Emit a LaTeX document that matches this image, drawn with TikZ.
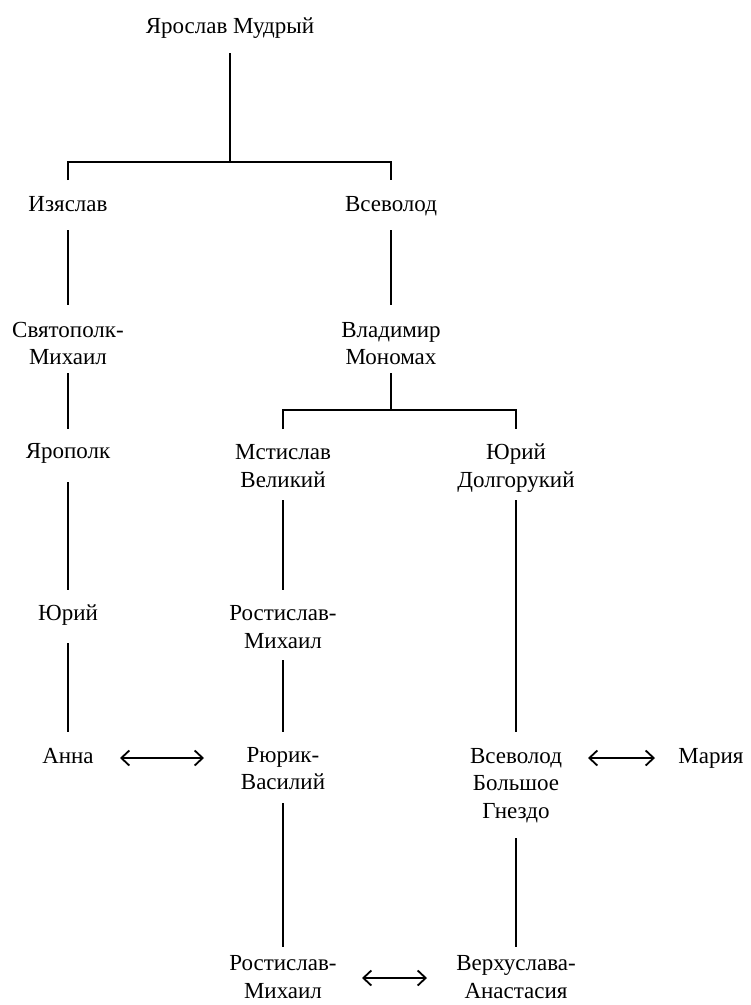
\documentclass[tikz,border=0pt]{standalone}
\usepackage{fontspec}
\setmainfont{Liberation Serif}
\usetikzlibrary{calc,arrows.meta}
\newcommand\lnstrut{\rule[-5.25pt]{0pt}{27.5pt}}
\tikzset{
  person/.style={inner sep=0pt, align=center, font=\fontsize{23}{27.5}\selectfont},
  ln/.style={line width=1.5pt},
  marr/.style={line width=1.8pt, {Straight Barb[length=8pt,width=15pt]}-{Straight Barb[length=8pt,width=15pt]}}
}
\begin{document}
\begin{tikzpicture}[x=1pt,y=-1pt]
\useasboundingbox[fill=white] (0,0) rectangle (751,1005);
% nodes
\node[person] (jar)  at (230,25)    {\lnstrut Ярослав Мудрый};
\node[person] (izj)  at (68,203)    {\lnstrut Изяслав};
\node[person] (vse)  at (391,203)   {\lnstrut Всеволод};
\node[person] (svj)  at (68,342.5)  {\lnstrut Святополк-\\\lnstrut Михаил};
\node[person] (vla)  at (391,342.5) {\lnstrut Владимир\\\lnstrut Мономах};
\node[person] (jarp) at (68,450)    {\lnstrut Ярополк};
\node[person] (mst)  at (283,465)   {\lnstrut Мстислав\\\lnstrut Великий};
\node[person] (jur)  at (516,465)   {\lnstrut Юрий\\\lnstrut Долгорукий};
\node[person] (jur2) at (68,612)    {\lnstrut Юрий};
\node[person] (ros)  at (283,626)   {\lnstrut Ростислав-\\\lnstrut Михаил};
\node[person] (anna) at (68,755)    {\lnstrut Анна};
\node[person] (rur)  at (283,767.5) {\lnstrut Рюрик-\\\lnstrut Василий};
\node[person] (vsb)  at (516,782)   {\lnstrut Всеволод\\\lnstrut Большое\\\lnstrut Гнездо};
\node[person] (mar)  at (711,755)   {\lnstrut Мария};
\node[person] (ros2) at (283,976)   {\lnstrut Ростислав-\\\lnstrut Михаил};
\node[person] (ver)  at (516,976)   {\lnstrut Верхуслава-\\\lnstrut Анастасия};
% branch points
\coordinate (b1) at (jar |- 0,162);
\coordinate (b2) at (vla |- 0,410);
% tree lines
\draw[ln] ($(jar)+(0,28)$) -- (b1);
\draw[ln] ($(izj)+(0,-23)$) |- (b1) -| ($(vse)+(0,-23)$);
\draw[ln] ($(izj)+(0,27)$) -- ($(svj)+(0,-37.5)$);
\draw[ln] ($(vse)+(0,27)$) -- ($(vla)+(0,-37.5)$);
\draw[ln] ($(svj)+(0,30.5)$) -- ($(jarp)+(0,-21)$);
\draw[ln] ($(vla)+(0,30.5)$) -- (b2);
\draw[ln] ($(mst)+(0,-36)$) |- (b2) -| ($(jur)+(0,-36)$);
\draw[ln] ($(jarp)+(0,32)$) -- ($(jur2)+(0,-22)$);
\draw[ln] ($(mst)+(0,35)$) -- ($(ros)+(0,-36)$);
\draw[ln] ($(jur2)+(0,31)$) -- ($(anna)+(0,-23)$);
\draw[ln] ($(ros)+(0,34)$) -- ($(rur)+(0,-35.5)$);
\draw[ln] ($(jur)+(0,35)$) -- ($(vsb)+(0,-50)$);
\draw[ln] ($(rur)+(0,35.5)$) -- ($(ros2)+(0,-29)$);
\draw[ln] ($(vsb)+(0,56)$) -- ($(ver)+(0,-29)$);
% marriage arrows
\draw[marr] ($(anna)+(52,3)$) -- ($(anna -| rur)+(-79,3)$);
\draw[marr] ($(mar -| vsb)+(72,3)$) -- ($(mar)+(-56,3)$);
\draw[marr] ($(ros2)+(79,2)$) -- ($(ver)+(-89,2)$);
\end{tikzpicture}
\end{document}
